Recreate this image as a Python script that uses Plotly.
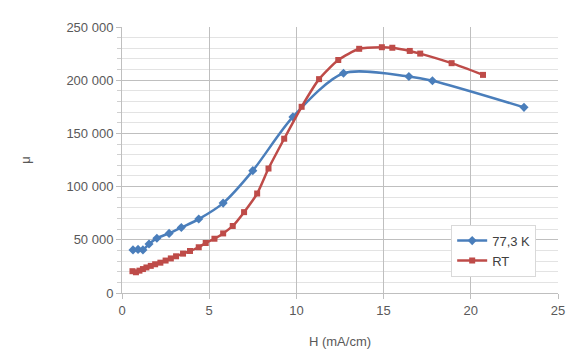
import plotly.graph_objects as go

# 77,3 K series
h_cold = [0.63, 0.92, 1.2, 1.55, 2.0, 2.7, 3.4, 4.4, 5.8, 7.5, 9.8, 12.7, 16.45, 17.8, 23.05]
mu_cold = [40500, 41000, 40500, 46000, 51500, 56000, 61500, 69500, 84500, 115000, 165500, 206500, 203500, 199500, 174500]

# RT series
h_rt = [0.6, 0.8, 1.0, 1.2, 1.4, 1.65, 1.9, 2.2, 2.5, 2.8, 3.1, 3.5, 3.9, 4.4, 4.8, 5.3, 5.8,
        6.35, 7.0, 7.75, 8.4, 9.3, 10.3, 11.3, 12.4, 13.6, 14.9, 15.5, 16.5, 17.1, 18.9, 20.7]
mu_rt = [20500, 19500, 21000, 22500, 24000, 25500, 27000, 28500, 30500, 32500, 34500, 37000, 39500,
         43000, 47000, 51000, 56000, 63000, 76000, 93500, 117000, 145000, 175000, 201000, 219000,
         229500, 231000, 230500, 227500, 225000, 216000, 205000]

x_ticks = [0, 5, 10, 15, 20, 25]

fig = go.Figure()
fig.add_trace(go.Scatter(
    x=h_cold, y=mu_cold, name="77,3 K", mode="lines+markers",
    line=dict(color="#4a7ebb", width=2.5, shape="spline", smoothing=0.8),
    marker=dict(symbol="diamond", size=7, color="#4a7ebb"),
))
fig.add_trace(go.Scatter(
    x=h_rt, y=mu_rt, name="RT", mode="lines+markers",
    line=dict(color="#be4b48", width=2.5, shape="spline", smoothing=0.6),
    marker=dict(symbol="square", size=6, color="#be4b48"),
))

fig.update_layout(
    width=573, height=355,
    margin=dict(l=114, r=23, t=13, b=70),
    paper_bgcolor="white", plot_bgcolor="white",
    separators=", ",
    font=dict(family="Liberation Sans, Arial, sans-serif", size=13, color="#595959"),
    showlegend=True,
    legend=dict(x=0.755, y=0.257, xanchor="left", yanchor="top",
                bgcolor="white", bordercolor="#d9d9d9", borderwidth=1,
                font=dict(size=13, color="#404040"), tracegroupgap=2),
    xaxis=dict(
        range=[0, 25], tickvals=x_ticks, showgrid=True, gridcolor="#bfbfbf", gridwidth=1,
        showline=True, linecolor="#bfbfbf", ticks="outside", tickcolor="#bfbfbf", ticklen=5,
        zeroline=False,
        title=dict(text="H (mA/cm)", standoff=20, font=dict(size=13, color="#595959")),
    ),
    yaxis=dict(
        range=[0, 250000], dtick=50000, tickformat=",.0f",
        showgrid=True, gridcolor="#bfbfbf", gridwidth=1,
        showline=True, linecolor="#bfbfbf", ticks="outside", tickcolor="#bfbfbf", ticklen=5,
        zeroline=False,
        minor=dict(dtick=10000, showgrid=True, gridcolor="#e3e3e3", ticks="outside",
                   ticklen=4, tickcolor="#d0d0d0"),
        title=dict(text="μ", standoff=32, font=dict(size=13, color="#595959")),
    ),
)

fig.write_html("out.html")
